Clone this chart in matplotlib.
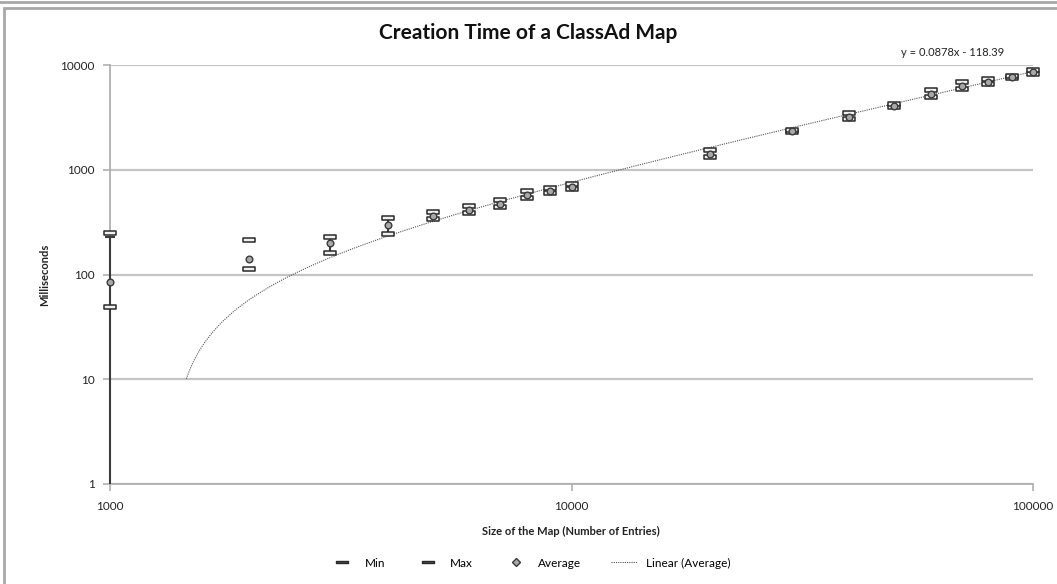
import numpy as np
import matplotlib
matplotlib.use("Agg")
import matplotlib.pyplot as plt
from matplotlib.path import Path
from matplotlib.lines import Line2D
from matplotlib.transforms import Bbox, TransformedBbox

plt.rcParams['font.family'] = ['Lato', 'DejaVu Sans']

# Map sizes (number of entries) and creation times in milliseconds
sizes = [1000, 2000, 3000, 4000, 5000, 6000, 7000, 8000, 9000, 10000,
         20000, 30000, 40000, 50000, 60000, 70000, 80000, 90000, 100000]
avg_ms = [85, 140, 201, 297, 364, 413, 471, 578, 627, 684,
          1414, 2344, 3210, 4064, 5250, 6302, 6932, 7628, 8514]
min_ms = [49, 112, 161, 242, 340, 385, 445, 540, 600, 650,
          1310, 2280, 3050, 3950, 4900, 5900, 6600, 7450, 8200]
max_ms = [249, 212, 229, 348, 395, 450, 510, 630, 665, 725,
          1560, 2420, 3450, 4200, 5800, 6900, 7300, 7850, 8900]
# error bar ends (no bar drawn for 2000 entries)
err_top = [228, np.nan, 229, 348, 395, 450, 510, 630, 665, 725,
           1560, 2420, 3450, 4200, 5800, 6900, 7300, 7850, 8900]
err_bottom = [-58, np.nan, 161, 242, 340, 385, 445, 540, 600, 650,
              1310, 2280, 3050, 3950, 4900, 5900, 6600, 7450, 8200]

# linear trendline on the averages
slope, intercept = 0.0878, -118.39
trend_label = "y = 0.0878x - 118.39"

x_ticks = [1000, 10000, 100000]
y_ticks = [1, 10, 100, 1000, 10000]

W, H = 1057, 584
fig = plt.figure(figsize=(W / 100, H / 100), dpi=100)
ax = fig.add_axes([110 / W, 1 - 484 / H, (1033 - 110) / W, (484 - 65) / H])

ax.set_xscale('log')
ax.set_yscale('log')
ax.set_xlim(1000, 100000)
ax.set_ylim(1, 10000)

ax.yaxis.grid(True, which='major', color='#c4c4c4', lw=1.6)
ax.set_axisbelow(True)
for s in ('top', 'right'):
    ax.spines[s].set_visible(False)
for s in ('left', 'bottom'):
    ax.spines[s].set_color('#b0b0b0')
    ax.spines[s].set_linewidth(1.3)

ax.set_xticks(x_ticks)
ax.set_xticklabels([str(v) for v in x_ticks])
ax.set_yticks(y_ticks)
ax.set_yticklabels([str(v) for v in y_ticks])
ax.minorticks_off()
ax.tick_params(axis='both', which='major', labelsize=8.5, colors='#b0b0b0',
               labelcolor='#222222', length=5, width=1.2)
ax.tick_params(axis='x', pad=7)
ax.tick_params(axis='y', pad=6)

x = np.array(sizes, dtype=float)
avg = np.array(avg_ms, dtype=float)
top = np.array(err_top, dtype=float)
bot = np.array(err_bottom, dtype=float)

# clip region: full height of the axes, a little wider so edge marks stay whole
wide_clip = TransformedBbox(Bbox([[-0.02, 0.0], [1.02, 1.0]]), ax.transAxes)

# error bars
eb = ax.errorbar(x, avg, yerr=[avg - bot, top - avg], fmt='none',
                 ecolor='#3a3a3a', elinewidth=1.5, capsize=3.6, capthick=1.5,
                 zorder=3)
for art in list(eb.lines[1]) + list(eb.lines[2]):
    art.set_clip_box(wide_clip)

# dash marker for min and max
dash = Path([(-1, -0.26), (1, -0.26), (1, 0.26), (-1, 0.26), (-1, -0.26)],
            [Path.MOVETO, Path.LINETO, Path.LINETO, Path.LINETO, Path.CLOSEPOLY])
ax.plot(x, min_ms, ls='none', marker=dash, ms=9, mfc='#f0f0f0',
        mec='#2a2a2a', mew=1.1, zorder=4, clip_on=False)
ax.plot(x, max_ms, ls='none', marker=dash, ms=9, mfc='#f0f0f0',
        mec='#2a2a2a', mew=1.1, zorder=4, clip_on=False)
ax.plot(x, avg, ls='none', marker='o', ms=4.8, mfc='#a8a8a8',
        mec='#3a3a3a', mew=1.0, zorder=5, clip_on=False)

# trendline, shown where it rises above 10 ms
xt = np.logspace(3, 5, 400)
yt = slope * xt + intercept
yt = np.where(yt >= 10, yt, np.nan)
ax.plot(xt, yt, ls=(0, (1, 1)), color='#555555', lw=0.8, zorder=2)

fig.text(528 / W, 1 - 33 / H, "Creation Time of a ClassAd Map",
         ha='center', va='center', fontsize=15, fontweight='bold', color='#111111')
fig.text(953 / W, 1 - 52 / H, trend_label, ha='center', va='center',
         fontsize=8, color='#222222')
fig.text(571 / W, 1 - 531 / H, "Size of the Map (Number of Entries)",
         ha='center', va='center', fontsize=8, fontweight='bold', color='#222222')
fig.text(45 / W, 1 - 275 / H, "Milliseconds", ha='center', va='center',
         rotation=90, fontsize=8, fontweight='bold', color='#222222')

handles = [
    Line2D([], [], ls='none', marker=dash, ms=8, mfc='#505050', mec='#2a2a2a'),
    Line2D([], [], ls='none', marker=dash, ms=8, mfc='#505050', mec='#2a2a2a'),
    Line2D([], [], ls='none', marker='D', ms=4.5, mfc='#a8a8a8', mec='#3a3a3a'),
    Line2D([], [], ls=(0, (1, 1)), color='#555555', lw=0.8),
]
fig.legend(handles, ["Min", "Max", "Average", "Linear (Average)"],
           loc='center', bbox_to_anchor=(530 / W, 1 - 563 / H), ncol=4,
           frameon=False, fontsize=8.5, handlelength=2.2, columnspacing=2.5,
           handletextpad=0.8)

# chart area border
fig.add_artist(plt.Rectangle((4 / W, -0.05), 1.1, 1 - 8 / H + 0.05,
                             transform=fig.transFigure, fill=False,
                             edgecolor='#a8a8a8', lw=2))
fig.add_artist(Line2D([0, 1], [1 - 2 / H, 1 - 2 / H], transform=fig.transFigure,
                      color='#a8a8a8', lw=2))

fig.savefig("out.png", dpi=100)
